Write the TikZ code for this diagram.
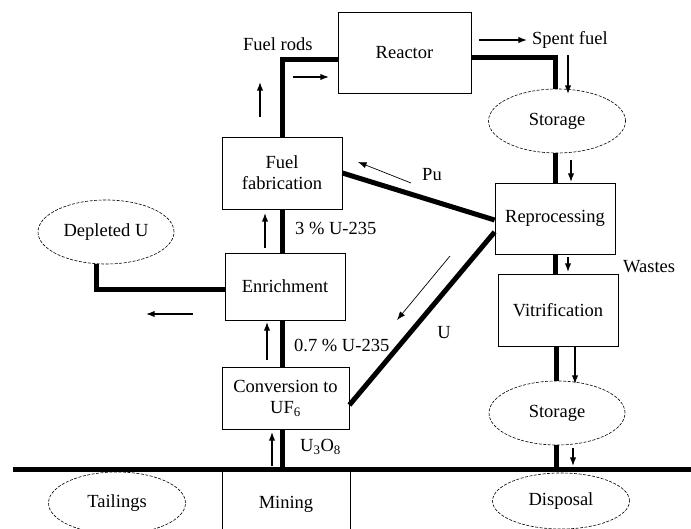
\documentclass[tikz,border=0pt]{standalone}
\usepackage{fontspec}
\setmainfont{Liberation Serif}
\usetikzlibrary{arrows.meta,positioning,shapes.geometric}

\begin{document}
\begin{tikzpicture}[
        x=1pt, y=-1pt,
        font=\fontsize{18.5}{21}\selectfont,
        box/.style={draw, line width=0.8pt, align=center, inner sep=2pt},
        store/.style={draw, ellipse, line width=0.6pt, dash pattern=on 3pt off 1.5pt,
                      inner sep=0pt},
        pipe/.style={line width=5pt},
        flow/.style={-{Latex[length=3mm,width=2.2mm]}, line width=1.1pt},
        thinflow/.style={-{Latex[length=3mm,width=2.2mm]}, line width=0.7pt},
        tag/.style={inner sep=0pt}
    ]
        \useasboundingbox (0,0) rectangle (691,529);

        % process boxes
        \node[box, minimum width=133, minimum height=81] (reactor) at (404.5,52.5) {Reactor};
        \node[box, minimum width=120, minimum height=72] (fuel-fab) at (282,173) {Fuel\\fabrication};
        \node[box, minimum width=120, minimum height=67] (enrichment) at (285,286.5) {Enrichment};
        \node[box, minimum width=127, minimum height=62] (conversion) at (285.5,398.5)
            {Conversion to\\UF\textsubscript{6}};
        \node[box, minimum width=128, minimum height=70, anchor=north] (mining) at (286,469) {Mining};
        \node[box, minimum width=120, minimum height=71] (reprocessing) at (555,218.5) {Reprocessing};
        \node[box, minimum width=120, minimum height=72] (vitrification) at (558,310) {Vitrification};

        % stores
        \node[store, minimum width=137, minimum height=64] (storage-top) at (557,121) {Storage};
        \node[store, minimum width=136, minimum height=64] (depleted) at (106,232) {Depleted U};
        \node[store, minimum width=136, minimum height=64] (storage-low) at (557,413) {Storage};
        \node[store, minimum width=137, minimum height=62] (tailings) at (117,503) {Tailings};
        \node[store, minimum width=137, minimum height=56] (disposal) at (561,501) {Disposal};

        % ground line
        \coordinate (ground-w) at (13,469);
        \coordinate (ground-e) at (691,469);
        \draw[pipe] (ground-w) -- (ground-e);

        % thick links
        \draw[pipe] ([yshift=-7.5]reactor.west) -| (fuel-fab.north);
        \draw[pipe] ([yshift=-5.5]reactor.east) -| ([xshift=-2]storage-top.north);
        \draw[pipe] ([xshift=-2]storage-top.south) -- ([xshift=-2]storage-top.south |- reprocessing.north);
        \draw[pipe] (reprocessing.south) -- (reprocessing.south |- vitrification.north);
        \draw[pipe] ([xshift=-2]vitrification.south) -- ([xshift=-2]vitrification.south |- storage-low.north);
        \draw[pipe] ([xshift=-1]storage-low.south) -- ([xshift=-1]storage-low.south |- ground-w);
        \draw[pipe] ([yshift=-1.5]reprocessing.west) -- (fuel-fab.east);
        \draw[pipe] ([yshift=-13.5]reprocessing.west) -- ([yshift=-6.5]conversion.east);
        \draw[pipe] (fuel-fab.south) -- (fuel-fab.south |- enrichment.north);
        \draw[pipe] ([xshift=-3.5]conversion.north) -- ([xshift=-3.5]conversion.north |- enrichment.south);
        \draw[pipe] ([xshift=-3.5]conversion.south) -- ([xshift=-3.5]conversion.south |- ground-w);
        \draw[pipe] ([yshift=-3.5]enrichment.west) -| ([xshift=-10]depleted.south);

        % flow arrows
        \draw[flow] (260,117) -- (260,82);
        \draw[flow] (293,77) -- (329,77);
        \draw[flow] (479,40) -- (527,40);
        \draw[flow] (568,55) -- (568,94);
        \draw[flow] (571,160) -- (571,182);
        \draw[thinflow] (411,183) -- (358,162);
        \draw[thinflow] (450,256) -- (397,320);
        \draw[flow] (568,257) -- (568,272);
        \draw[flow] (575,346) -- (575,384);
        \draw[flow] (573,448) -- (573,466);
        \draw[flow] (272,466) -- (272,432);
        \draw[flow] (267,360) -- (267,322);
        \draw[flow] (265,248) -- (265,213);
        \draw[flow] (193,314) -- (146,314);

        % labels
        \node[tag, anchor=west] (fuel-rods) at (243,44) {Fuel rods};
        \node[tag, anchor=west] (spent-fuel) at (532,40) {Spent fuel};
        \node[tag] (pu) at (432,175) {Pu};
        \node[tag] (u-back) at (444,333) {U};
        \node[tag, anchor=west] (wastes) at (623,267) {Wastes};
        \node[tag, anchor=west] (enriched) at (295,228) {3 \% U-235};
        \node[tag, anchor=west] (natural) at (294,345) {0.7 \% U-235};
        \node[tag, anchor=west] (oxide) at (300,447) {U\textsubscript{3}O\textsubscript{8}};
    \end{tikzpicture}
\end{document}
